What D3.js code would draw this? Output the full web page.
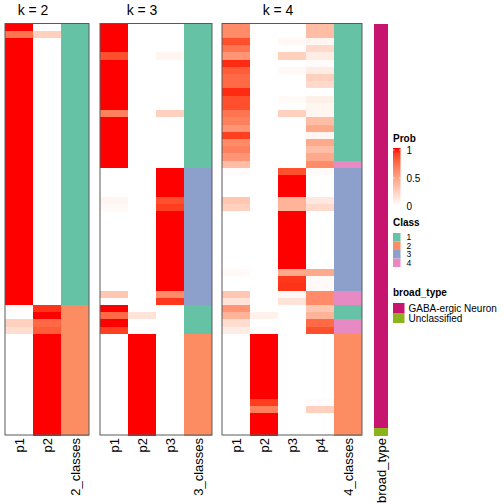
<!DOCTYPE html>
<html>
<head>
<meta charset="utf-8">
<script src="https://cdn.jsdelivr.net/npm/d3@7"></script>
<style>
html,body{margin:0;padding:0;background:#fff;}
svg{display:block;font-family:"Liberation Sans",Arial,Helvetica,sans-serif;}
</style>
</head>
<body>
<svg id="chart" width="504" height="504"></svg>
<script>
// ---- data (57 samples, top to bottom) ----
const nRows = 57;
const k2_p1 = [1,0.7,1,1,1,1,1,1,1,1, 1,1,1,1,1,1,1,1,1,1, 1,1,1,1,1,1,1,1,1,1, 1,1,1,1,1,1,1,1,1,0.02, 0,0.25,0.18,0,0,0,0,0,0,0, 0,0,0,0,0,0,0];
const k2_p2 = [0,0.25,0,0,0,0,0,0,0,0, 0,0,0,0,0,0,0,0,0,0, 0,0,0,0,0,0,0,0,0,0, 0,0,0,0,0,0,0,0,0,0.93, 1,0.75,0.8,1,1,1,1,1,1,1, 1,1,1,1,1,1,1];
const k2_class = [1,1,1,1,1,1,1,1,1,1, 1,1,1,1,1,1,1,1,1,1, 1,1,1,1,1,1,1,1,1,1, 1,1,1,1,1,1,1,1,1,2, 2,2,2,2,2,2,2,2,2,2, 2,2,2,2,2,2,2];

const k3_p1 = [1,1,1,1,0.85,1,1,1,1,1, 1,1,0.65,1,1,1,1,1,1,1, 0,0,0,0,0.05,0.03,0,0,0,0, 0,0,0,0,0,0,0,0.3,0,1, 0.75,1,0.9,0,0,0,0,0,0,0, 0,0,0,0,0,0,0];
const k3_p2 = [0,0,0,0,0,0,0,0,0,0, 0,0,0,0,0,0,0,0,0,0, 0,0,0,0,0,0,0,0,0,0, 0,0,0,0,0,0,0,0,0,0, 0.15,0,0.02,1,1,1,1,1,1,1, 1,1,1,1,1,1,1];
const k3_p3 = [0,0,0,0,0.05,0,0,0,0,0, 0,0,0.25,0,0,0,0,0,0,0, 1,1,1,1,0.85,0.9,1,1,1,1, 1,1,1,1,1,1,1,0.6,0.92,0, 0,0,0,0,0,0,0,0,0,0, 0,0,0,0,0,0,0];
const k3_class = [1,1,1,1,1,1,1,1,1,1, 1,1,1,1,1,1,1,1,1,1, 3,3,3,3,3,3,3,3,3,3, 3,3,3,3,3,3,3,3,3,1, 1,1,1,2,2,2,2,2,2,2, 2,2,2,2,2,2,2];

const k4_p1 = [0.6,0.6,0.85,0.7,0.55,0.95,0.8,0.75,0.75,0.95, 0.85,0.85,0.7,0.65,0.55,0.9,0.6,0.65,0.55,0.35, 0.02,0,0,0,0.3,0.25,0,0,0,0, 0,0,0,0,0.03,0,0,0.3,0.15,0.55, 0.4,0.18,0.1,0,0,0,0,0,0,0, 0,0,0,0,0,0,0];
const k4_p2 = [0,0,0,0,0,0,0,0,0,0, 0,0,0,0,0,0,0,0,0,0, 0,0,0,0,0,0,0,0,0,0, 0,0,0,0,0,0,0,0,0,0, 0.07,0,0.02,1,1,1,1,1,1,1, 1,1,0.9,0.65,1,1,1];
const k4_p3 = [0,0,0.04,0,0.25,0,0.04,0,0,0, 0.03,0,0.25,0,0,0,0,0,0,0, 0.85,1,1,1,0.4,0.4,1,1,1,1, 1,1,1,1,0.45,0.92,0.93,0.03,0.15,0, 0,0,0,0,0,0,0,0,0,0, 0,0,0,0,0,0,0];
const k4_p4 = [0.35,0.35,0.05,0.2,0.1,0.02,0.1,0.25,0.2,0, 0.08,0.05,0.05,0.35,0.45,0.05,0.45,0.35,0.45,0.6, 0.03,0,0,0,0.12,0.2,0,0,0,0, 0,0,0,0,0.45,0.03,0.03,0.6,0.6,0.3, 0.4,0.75,0.85,0,0,0,0,0,0,0, 0,0,0.02,0.25,0,0,0];
const k4_class = [1,1,1,1,1,1,1,1,1,1, 1,1,1,1,1,1,1,1,1,4, 3,3,3,3,3,3,3,3,3,3, 3,3,3,3,3,3,3,4,4,1, 1,4,4,2,2,2,2,2,2,2, 2,2,2,2,2,2,2];

const broadType = Array.from({length: nRows}, (_, i) => i === 56 ? "Unclassified" : "GABA-ergic Neuron");

const classNames = ["1","2","3","4"];
const classColors = ["#66C2A5","#FC8D62","#8DA0CB","#E78AC3"];
const typeNames = ["GABA-ergic Neuron","Unclassified"];
const typeColors = ["#C7156F","#8CB21C"];
const probTicks = [0, 0.5, 1];

// ---- scales ----
const svg = d3.select("#chart");
const rowIdx = d3.range(nRows);
const y = d3.scaleBand().domain(rowIdx).range([23.5, 435]);
const probColor = d3.scaleLinear().domain([0,1]).range(["#FFFFFF","#FF0000"]).interpolate(d3.interpolateLab);
const classColor = d3.scaleOrdinal().domain([1,2,3,4]).range(classColors);
const typeColor = d3.scaleOrdinal().domain(typeNames).range(typeColors);

const panels = [
  {title:"k = 2", x0:5, cols:["p1","p2","2_classes"], probs:[k2_p1,k2_p2], cls:k2_class},
  {title:"k = 3", x0:100, cols:["p1","p2","p3","3_classes"], probs:[k3_p1,k3_p2,k3_p3], cls:k3_class},
  {title:"k = 4", x0:222, cols:["p1","p2","p3","p4","4_classes"], probs:[k4_p1,k4_p2,k4_p3,k4_p4], cls:k4_class}
];
const colW = 28;

panels.forEach(p => {
  const x = d3.scaleBand().domain(p.cols).range([p.x0, p.x0 + colW * p.cols.length]);
  const g = svg.append("g").attr("shape-rendering", "crispEdges");
  p.probs.forEach((arr, ci) => {
    g.selectAll(null).data(arr).enter().append("rect")
      .attr("x", x(p.cols[ci])).attr("width", x.bandwidth())
      .attr("y", (d,i) => y(i)).attr("height", y.bandwidth() + 0.6)
      .attr("fill", d => probColor(d));
  });
  const cc = p.cols[p.cols.length - 1];
  g.selectAll(null).data(p.cls).enter().append("rect")
    .attr("x", x(cc)).attr("width", x.bandwidth())
    .attr("y", (d,i) => y(i)).attr("height", y.bandwidth() + 0.6)
    .attr("fill", d => classColor(d));
  svg.append("rect").attr("x", x.range()[0]).attr("y", 23.5)
    .attr("width", x.range()[1] - x.range()[0]).attr("height", 435 - 23.5)
    .attr("fill", "none").attr("stroke", "#5a5a5a").attr("stroke-width", 1);
  // title centred over probability columns
  const pc = p.cols.slice(0, -1);
  const tx = (x(pc[0]) + x(pc[pc.length-1]) + x.bandwidth()) / 2;
  svg.append("text").attr("x", tx).attr("y", 15).attr("text-anchor", "middle")
    .attr("font-size", 14).attr("fill", "#000").text(p.title);
  // column labels
  p.cols.forEach(c => {
    svg.append("text")
      .attr("transform", `translate(${x(c) + x.bandwidth()/2 + 5},438) rotate(-90)`)
      .attr("text-anchor", "end").attr("font-size", 13).attr("fill", "#000").text(c);
  });
});

// broad_type annotation
const bx = d3.scaleBand().domain(["broad_type"]).range([374, 388]);
svg.append("g").attr("shape-rendering", "crispEdges").selectAll("rect").data(broadType).enter().append("rect")
  .attr("x", bx("broad_type")).attr("width", bx.bandwidth())
  .attr("y", (d,i) => y(i)).attr("height", y.bandwidth() + 0.6)
  .attr("fill", d => typeColor(d));
svg.append("text")
  .attr("transform", `translate(${bx("broad_type") + bx.bandwidth()/2 + 5},438) rotate(-90)`)
  .attr("text-anchor", "end").attr("font-size", 13).attr("fill", "#000").text("broad_type");

// ---- legends ----
const lx = 393;
const lg = svg.append("g");
lg.append("text").attr("x", lx).attr("y", 142).attr("font-size", 10).attr("font-weight", "bold").text("Prob");
const defs = svg.append("defs");
const grad = defs.append("linearGradient").attr("id", "pg").attr("x1", 0).attr("x2", 0).attr("y1", 1).attr("y2", 0);
d3.range(0, 1.0001, 0.1).forEach(t => grad.append("stop").attr("offset", t).attr("stop-color", probColor(t)));
const ly = d3.scaleLinear().domain([0,1]).range([206, 150]);
lg.append("rect").attr("x", lx).attr("y", 148).attr("width", 7.5).attr("height", 58).attr("fill", "url(#pg)");
probTicks.forEach(t => {
  lg.append("line").attr("x1", lx).attr("x2", lx + 1.5).attr("y1", ly(t)).attr("y2", ly(t)).attr("stroke", "#fff").attr("stroke-width", 0.8);
  lg.append("line").attr("x1", lx + 6).attr("x2", lx + 7.5).attr("y1", ly(t)).attr("y2", ly(t)).attr("stroke", "#fff").attr("stroke-width", 0.8);
  lg.append("text").attr("x", 406.5).attr("y", ly(t) + 3.5).attr("font-size", 10).text(t === 0.5 ? "0.5" : String(t));
});

lg.append("text").attr("x", lx).attr("y", 226).attr("font-size", 10).attr("font-weight", "bold").text("Class");
const cy = d3.scaleBand().domain(classNames).range([233, 267]);
classNames.forEach((c, i) => {
  lg.append("rect").attr("x", lx).attr("y", cy(c)).attr("width", 7.5).attr("height", cy.bandwidth()).attr("fill", classColors[i]);
  lg.append("text").attr("x", 406.5).attr("y", cy(c) + cy.bandwidth()/2 + 3).attr("font-size", 8.5).text(c);
});

lg.append("text").attr("x", lx).attr("y", 296).attr("font-size", 10).attr("font-weight", "bold").text("broad_type");
const ty = d3.scaleBand().domain(typeNames).range([303, 323]);
typeNames.forEach((c, i) => {
  lg.append("rect").attr("x", lx).attr("y", ty(c)).attr("width", 11.5).attr("height", ty.bandwidth()).attr("fill", typeColors[i]);
  lg.append("text").attr("x", 408.5).attr("y", ty(c) + ty.bandwidth()/2 + 3.5).attr("font-size", 10).text(c);
});
</script>
</body>
</html>
